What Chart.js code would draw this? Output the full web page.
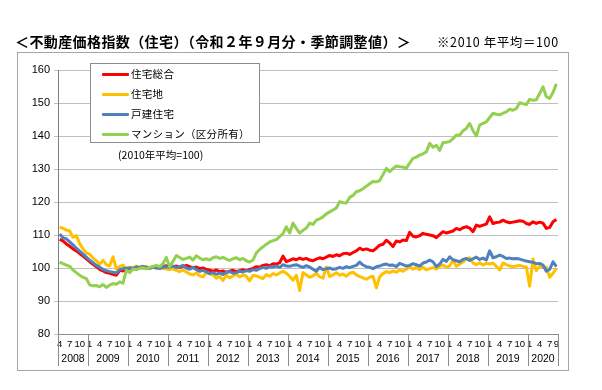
<!DOCTYPE html>
<html lang="ja">
<head>
<meta charset="utf-8">
<title>不動産価格指数（住宅）</title>
<script src="https://cdn.jsdelivr.net/npm/chart.js@4.4.0/dist/chart.umd.min.js"></script>
<style>
  body { margin: 0; background: #fff; }
  #wrap { position: relative; width: 602px; height: 390px; overflow: hidden; font-family: "Noto Sans CJK JP", sans-serif; }
  #chart { position: absolute; left: 0; top: 0; }
  #frame { position: absolute; left: 17px; top: 52px; width: 550px; height: 317px; border: 1px solid #a6a6a6; }
  #title { position: absolute; left: 15px; top: 33px; font-size: 14px; line-height: 16px; font-weight: bold; letter-spacing: 0.4px; white-space: nowrap; }
  #note { position: absolute; left: 437px; top: 34px; font-size: 12.5px; line-height: 15px; letter-spacing: 0.6px; white-space: nowrap; }
  #legend { position: absolute; left: 90px; top: 63px; width: 168px; height: 78px; border: 1px solid #8c8c8c; background: #fff; }
  .row { position: absolute; left: 0; height: 14px; font-size: 10.5px; line-height: 14px; white-space: nowrap; }
  .row span.swatch { position: absolute; left: 11px; top: 6px; width: 27px; height: 3px; border-radius: 1px; }
  .row span.txt { position: absolute; left: 40px; top: 0; letter-spacing: 0.3px; }
  #base { position: absolute; left: 118px; top: 148px; font-size: 10.5px; line-height: 14px; white-space: nowrap; }
</style>
</head>
<body>
<div id="wrap">
  <div id="frame"></div>
  <canvas id="chart" width="602" height="390"></canvas>
  <div id="title">＜不動産価格指数（住宅）（令和２年９月分・季節調整値）＞</div>
  <div id="note">※2010 年平均＝100</div>
  <div id="legend"></div>
  <div id="base">(2010年平均=100)</div>
</div>
<script>
// 2008年4月 〜 2020年9月（月次）
const years = [2008, 2009, 2010, 2011, 2012, 2013, 2014, 2015, 2016, 2017, 2018, 2019, 2020];
const firstMonth = 4;
const lastMonth = 9;
const monthTicks = [1, 4, 7, 10];

const seriesNames = ['住宅総合', '住宅地', '戸建住宅', 'マンション（区分所有）'];
const seriesColors = ['#ff0000', '#ffc000', '#4f81bd', '#92d050'];

// 住宅総合
const sogo = [
  108.7, 108.2, 107.3, 106.6, 105.8, 105.2, 104.4, 103.6, 102.8,
  101.9, 101.1, 100.4, 99.6, 99.1, 98.6, 98.4, 98.1, 97.8, 99.3, 99.1, 99.6,
  99.8, 100.1, 99.9, 100.2, 100.4, 100.1, 100.0, 100.3, 100.5, 100.2, 100.4, 100.7,
  100.5, 100.3, 100.6, 100.2, 100.5, 100.8, 100.4, 100.1, 100.3, 99.8, 100.0, 99.6,
  99.3, 99.0, 99.4, 98.9, 99.1, 98.7, 99.0, 99.3, 98.9, 99.2, 99.5, 99.2,
  99.6, 99.9, 100.4, 100.2, 100.8, 101.0, 100.7, 101.3, 101.2, 101.6, 103.6, 101.9,
  102.3, 102.8, 102.5, 103.0, 102.6, 102.9, 102.4, 102.2, 102.7, 103.1, 102.8, 103.3,
  103.8, 103.5, 104.0, 103.7, 104.3, 104.5, 104.1, 104.7, 105.2, 106.0, 105.5, 105.8,
  105.4, 105.2, 106.0, 106.9, 107.2, 108.4, 107.6, 106.5, 108.2, 107.9, 108.5, 108.3,
  110.8, 109.6, 109.4, 109.8, 110.5, 110.2, 110.0, 109.8, 109.2, 110.1, 111.0, 110.6,
  110.9, 111.2, 112.0, 111.6, 112.2, 112.5, 112.1, 111.0, 113.0, 112.6, 113.0, 113.3,
  115.5, 113.5, 113.8, 113.9, 114.5, 114.0, 113.7, 113.9, 114.1, 114.3, 114.2, 113.5,
  113.2, 114.0, 113.5, 113.9, 113.6, 112.0, 112.3, 114.0, 114.7
];

// 住宅地
const takuchi = [
  112.4, 112.0, 111.5, 111.2, 109.3, 109.8, 107.4, 105.8, 104.5,
  104.2, 103.0, 102.2, 101.1, 102.3, 101.0, 100.6, 103.4, 99.7, 100.5, 100.9, 99.8,
  100.3, 99.9, 100.6, 100.2, 99.9, 100.5, 100.0, 100.3, 99.8, 100.4, 99.9, 99.7,
  99.5, 99.8, 99.3, 98.9, 99.4, 98.8, 98.2, 97.9, 98.5, 97.6, 97.3, 98.6,
  98.2, 97.9, 96.9, 97.4, 96.2, 97.8, 97.0, 97.6, 98.1, 97.3, 97.9, 97.5,
  96.1, 97.8, 97.6, 97.2, 96.8, 98.0, 97.5, 98.3, 97.9, 98.5, 99.0, 98.4,
  97.5, 96.3, 97.8, 93.2, 98.6, 97.9, 97.2, 97.6, 98.4, 97.3, 96.9, 100.3,
  97.4, 97.9, 98.6, 97.8, 98.2, 97.5, 98.4, 98.7, 97.9, 97.4, 97.0, 96.6,
  97.2, 97.5, 94.0, 97.3, 98.3, 98.9, 98.6, 99.1, 98.7, 99.4, 99.0, 99.6,
  100.4, 99.6, 100.2, 99.5, 100.3, 99.4, 99.8, 100.1, 99.7, 100.5, 100.9, 100.2,
  100.6, 102.4, 100.5, 101.2, 101.8, 102.8, 103.1, 101.5, 101.0, 101.6, 100.9, 101.4,
  101.2, 101.5, 100.5, 99.4, 101.5, 101.0, 100.6, 100.4, 100.6, 100.8, 100.5, 100.3,
  94.5, 102.7, 99.2, 100.6, 100.3, 100.2, 97.2, 98.4, 99.9
];

// 戸建住宅
const kodate = [
  110.3, 109.2, 108.8, 107.9, 107.0, 106.0, 105.1, 104.2, 103.3,
  102.4, 101.6, 100.8, 100.2, 99.6, 99.2, 98.9, 98.7, 98.5, 99.5, 99.8, 99.9,
  100.0, 99.8, 100.3, 100.1, 100.5, 100.2, 99.9, 100.3, 100.1, 99.8, 100.2, 100.4,
  100.3, 100.6, 100.1, 100.4, 100.8, 100.0, 99.6, 100.2, 99.5, 99.0, 99.3, 98.8,
  98.3, 98.6, 98.1, 98.5, 98.0, 98.7, 98.9, 98.4, 98.6, 99.0, 98.8, 99.2,
  99.0, 99.5, 99.3, 99.8, 100.2, 99.9, 100.4, 100.3, 100.6, 100.2, 101.0, 100.6,
  100.5, 100.8, 101.0, 100.6, 100.2, 100.7, 100.3, 99.6, 99.0, 100.2, 99.5, 99.8,
  100.0, 99.6, 99.8, 100.2, 99.9, 100.4, 100.1, 100.5, 100.8, 101.8, 100.9, 100.4,
  100.2, 99.8, 100.4, 100.6, 101.0, 101.2, 100.8, 100.9, 100.4, 101.4, 101.0, 100.6,
  100.8, 101.3, 101.0, 100.6, 101.5, 101.8, 102.4, 101.9, 100.4, 101.2, 102.6, 102.0,
  103.4, 102.5, 102.2, 101.9, 102.6, 102.9, 102.3, 102.8, 103.3, 102.6, 103.0, 102.4,
  105.2, 103.1, 103.4, 103.9, 103.5, 102.9, 103.0, 102.8, 102.9, 102.7, 102.4, 102.1,
  101.9, 101.7, 101.3, 101.4, 100.9, 99.0, 99.6, 101.9, 100.4
];

// マンション（区分所有）
const mansion = [
  101.8, 101.3, 100.9, 100.5, 99.4, 98.6, 97.8, 97.2, 96.8,
  94.9, 94.6, 94.7, 94.3, 95.0, 94.1, 94.8, 95.3, 95.1, 95.8, 95.4, 99.3,
  98.6, 99.7, 99.5, 99.9, 100.1, 99.7, 100.2, 100.5, 100.8, 100.4, 101.3, 103.2,
  100.4, 102.0, 103.8, 103.2, 102.6, 102.9, 103.3, 102.4, 103.7, 103.0, 102.5, 102.8,
  102.4, 103.1, 103.4, 102.9, 103.2, 102.7, 102.3, 102.8, 103.1, 102.5, 102.9, 102.2,
  101.8, 102.4, 104.6, 105.6, 106.4, 107.2, 107.9, 108.3, 108.6, 109.5, 110.4, 112.5,
  110.6, 113.6, 112.0, 110.6, 111.4, 112.1, 113.6, 113.2, 114.5, 114.9, 115.5, 116.4,
  117.0, 117.6, 118.2, 120.1, 119.8, 119.7, 121.4, 122.0, 123.1, 123.4, 124.0, 124.8,
  125.5, 126.2, 126.1, 126.5, 128.3, 130.2, 129.2, 130.1, 130.9, 130.7, 130.6, 130.2,
  131.8, 133.2, 133.6, 134.2, 134.6, 135.2, 137.8, 136.6, 137.2, 135.6, 138.0, 138.1,
  138.3, 139.2, 140.3, 140.2, 141.6, 142.3, 143.8, 141.6, 140.0, 143.3, 143.8, 144.3,
  145.6, 146.9, 146.6, 146.4, 146.9, 147.3, 148.1, 147.8, 148.3, 150.1, 149.8, 149.5,
  151.1, 150.8, 151.0, 152.9, 154.9, 151.9, 151.4, 153.2, 155.8
];

// month labels: [year, month]
const labels = [];
years.forEach((y, yi) => {
  const m0 = yi === 0 ? firstMonth : 1;
  const m1 = yi === years.length - 1 ? lastMonth : 12;
  for (let m = m0; m <= m1; m++) labels.push([y, m]);
});

// year row under the month ticks, with separators between years
const yearRow = {
  id: 'yearRow',
  afterDraw(chart) {
    const x = chart.scales.x;
    const ctx = chart.ctx;
    const bottom = chart.chartArea.bottom;
    const step = x.getPixelForValue(1) - x.getPixelForValue(0);
    ctx.save();
    ctx.strokeStyle = '#8c8c8c';
    ctx.lineWidth = 1;
    ctx.fillStyle = '#000';
    ctx.font = '10.5px "Liberation Sans", Arial, sans-serif';
    ctx.textAlign = 'center';
    ctx.textBaseline = 'middle';
    let start = 0;
    years.forEach(y => {
      let end = start;
      while (end < labels.length && labels[end][0] === y) end++;
      const left = x.getPixelForValue(start) - step / 2;
      const right = x.getPixelForValue(end - 1) + step / 2;
      ctx.beginPath();
      ctx.moveTo(Math.round(left) + 0.5, bottom);
      ctx.lineTo(Math.round(left) + 0.5, bottom + 32);
      if (end === labels.length) {
        ctx.moveTo(Math.round(right) + 0.5, bottom);
        ctx.lineTo(Math.round(right) + 0.5, bottom + 32);
      }
      ctx.stroke();
      ctx.fillText(String(y), (left + right) / 2, bottom + 25);
      start = end;
    });
    ctx.restore();
  }
};

const series = [sogo, takuchi, kodate, mansion];

new Chart(document.getElementById('chart'), {
  type: 'line',
  data: {
    labels: labels,
    datasets: series.map((values, i) => ({
      label: seriesNames[i],
      data: values,
      borderColor: seriesColors[i],
      backgroundColor: seriesColors[i],
      borderWidth: 3,
      pointRadius: 0,
      tension: 0,
      fill: false,
      borderJoinStyle: 'round',
      order: series.length - 1 - i
    }))
  },
  options: {
    responsive: false,
    animation: false,
    events: [],
    layout: { padding: { left: 18, top: 70, right: 44, bottom: 0 } },
    plugins: {
      legend: { display: false },
      tooltip: { enabled: false }
    },
    scales: {
      x: {
        type: 'category',
        offset: true,
        grid: { display: false, drawTicks: false },
        border: { display: true, color: '#8c8c8c', width: 1 },
        ticks: {
          autoSkip: false,
          maxRotation: 0,
          minRotation: 0,
          padding: 5,
          color: '#000',
          font: { family: '"Liberation Sans", Arial, sans-serif', size: 9.5 },
          callback: function(value, index) {
            const m = labels[index][1];
            const last = index === labels.length - 1;
            return monthTicks.includes(m) || last ? String(m) : '';
          }
        },
        afterFit: function(scale) { scale.height = 56; }
      },
      y: {
        min: 80,
        max: 160,
        ticks: {
          stepSize: 10,
          padding: 4,
          color: '#000',
          font: { family: '"Liberation Sans", Arial, sans-serif', size: 11 }
        },
        grid: { color: '#bfbfbf', lineWidth: 1, tickLength: 4 },
        border: { display: true, color: '#7f7f7f', width: 1 },
        afterFit: function(scale) { scale.width = 40; }
      }
    }
  },
  plugins: [yearRow]
});

// HTML legend over the plot area
const legendBox = document.getElementById('legend');
seriesNames.forEach((name, i) => {
  const row = document.createElement('div');
  row.className = 'row';
  row.style.top = (3 + i * 20) + 'px';
  row.innerHTML = '<span class="swatch" style="background:' + seriesColors[i] + '"></span><span class="txt">' + name + '</span>';
  legendBox.appendChild(row);
});
</script>
</body>
</html>
